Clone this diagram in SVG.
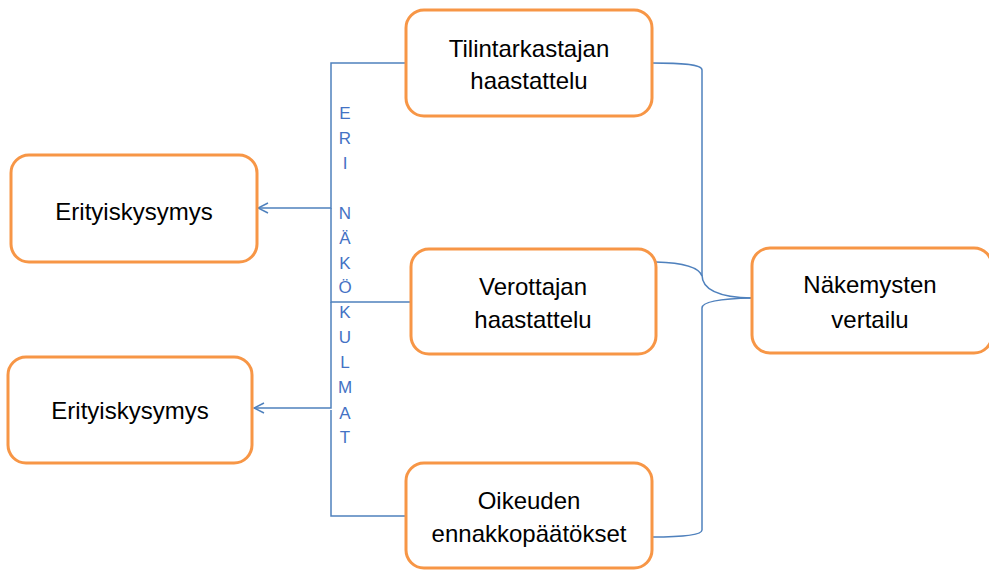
<svg xmlns="http://www.w3.org/2000/svg" width="989" height="570" viewBox="0 0 989 570">
  <style>
    .box { fill: #ffffff; stroke: #F79646; stroke-width: 3; }
    .lbl { font-family: "Liberation Sans", Arial, sans-serif; font-size: 24px; fill: #000000; text-anchor: middle; }
    .vt { font-family: "Liberation Sans", Arial, sans-serif; font-size: 17px; fill: #4472C4; text-anchor: middle; }
    .conn { fill: none; stroke: #4F81BD; stroke-width: 1.5; }
  </style>
  <defs>
    <marker id="arrow" viewBox="0 0 12 12" refX="11" refY="6" markerWidth="12" markerHeight="12" markerUnits="userSpaceOnUse" orient="auto">
      <path d="M1,1 L11,6 L1,11" fill="none" stroke="#4F81BD" stroke-width="1.5"/>
    </marker>
  </defs>

  <!-- connectors -->
  <g id="connectors">
    <path class="conn" d="M406,63 H331 V208 H258" marker-end="url(#arrow)"/>
    <path class="conn" d="M411,302 H331 V208"/>
    <path class="conn" d="M331,302 V408 H254" marker-end="url(#arrow)"/>
    <path class="conn" d="M406,516 H331 V410"/>
    <!-- brace on the right -->
    <path class="conn" d="M652,63 C680,63 702,64 702,70 V275 Q702,297 752,298"/>
    <path class="conn" d="M656,262 C690,263 700,270 702,276"/>
    <path class="conn" d="M752,298 Q702,299 702,308 V530 Q702,537 652,537"/>
  </g>

  <!-- vertical label -->
  <g id="vertical-label">
    <text class="vt" x="345" y="119">E</text>
    <text class="vt" x="345" y="144">R</text>
    <text class="vt" x="345" y="169">I</text>
    <text class="vt" x="345" y="219">N</text>
    <text class="vt" x="345" y="244">Ä</text>
    <text class="vt" x="345" y="269">K</text>
    <text class="vt" x="345" y="293">Ö</text>
    <text class="vt" x="345" y="318">K</text>
    <text class="vt" x="345" y="343">U</text>
    <text class="vt" x="345" y="368">L</text>
    <text class="vt" x="345" y="393">M</text>
    <text class="vt" x="345" y="419">A</text>
    <text class="vt" x="345" y="443">T</text>
  </g>

  <g id="tilintarkastajan">
    <rect class="box" x="406" y="10" width="246" height="106" rx="18"/>
    <text class="lbl" x="529" y="57">Tilintarkastajan</text>
    <text class="lbl" x="529" y="89">haastattelu</text>
  </g>

  <g id="erityiskysymys-1">
    <rect class="box" x="11" y="155" width="246" height="107" rx="18"/>
    <text class="lbl" x="134" y="220">Erityiskysymys</text>
  </g>

  <g id="verottajan">
    <rect class="box" x="411" y="249" width="245" height="105" rx="18"/>
    <text class="lbl" x="533" y="295">Verottajan</text>
    <text class="lbl" x="533" y="328">haastattelu</text>
  </g>

  <g id="erityiskysymys-2">
    <rect class="box" x="8" y="357" width="244" height="106" rx="18"/>
    <text class="lbl" x="130" y="419">Erityiskysymys</text>
  </g>

  <g id="oikeuden">
    <rect class="box" x="406" y="463" width="246" height="105" rx="18"/>
    <text class="lbl" x="529" y="509">Oikeuden</text>
    <text class="lbl" x="529" y="542">ennakkopäätökset</text>
  </g>

  <g id="nakemysten">
    <rect class="box" x="752" y="248" width="240" height="105" rx="18"/>
    <text class="lbl" x="870" y="293">Näkemysten</text>
    <text class="lbl" x="870" y="328">vertailu</text>
  </g>
</svg>
